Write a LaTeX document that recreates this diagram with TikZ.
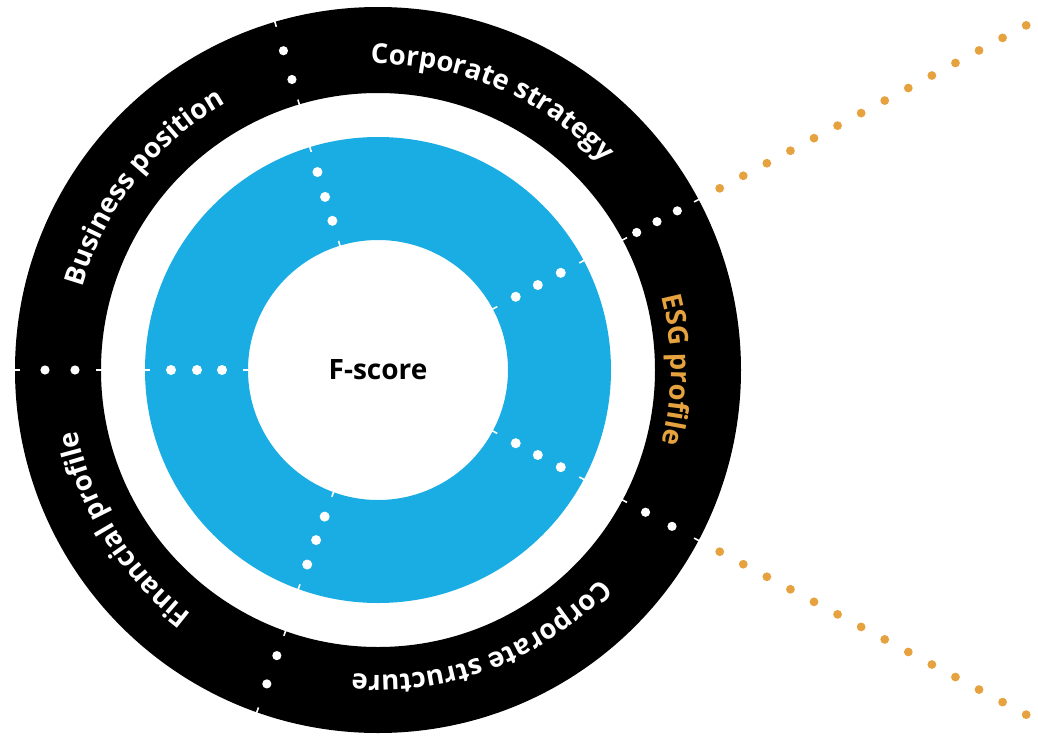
\documentclass[tikz,border=0pt]{standalone}
\usepackage{fontspec}
\setmainfont{Open Sans}
\usetikzlibrary{decorations.text}
\definecolor{ringblue}{RGB}{25,173,228}
\definecolor{esgorange}{RGB}{230,162,62}
\tikzset{
  notch/.style={white, line width=1.6pt},
  ringdot/.style={white},
  golddot/.style={fill=esgorange},
}
\begin{document}
\begin{tikzpicture}[x=1pt,y=1pt]
\useasboundingbox (-378,-367) rectangle (660,370);
% rings
\fill[black, even odd rule] (0,0) circle[radius=363] (0,0) circle[radius=277];
\fill[ringblue, even odd rule] (0,0) circle[radius=233] (0,0) circle[radius=130];
% notches at segment borders
\foreach \a in {106.5,180,28,-28,250.5} {
  \draw[notch] (\a:358) -- (\a:367);
  \draw[notch] (\a:273) -- (\a:282);
}
\foreach \a in {107,180,28,-28,250} {
  \draw[notch] (\a:228) -- (\a:237);
  \draw[notch] (\a:126) -- (\a:135);
}
% dots in the black ring
\foreach \a in {106.5,180,-28,250.5}
  \foreach \r in {303,333}
    \fill[ringdot] (\a:\r) circle[radius=4.6];
\foreach \r in {293,316,339}
  \fill[ringdot] (28:\r) circle[radius=4.6];
% dots in the blue ring
\foreach \a in {107,180,28,-28,250}
  \foreach \r in {156,181,207}
    \fill[ringdot] (\a:\r) circle[radius=5];
% orange dotted rays
\foreach \s in {28,-28}
  \foreach \i in {0,...,13}
    \fill[golddot] (\s:{387+26.7*\i}) circle[radius=4.4];
% ring labels
\path[decorate, decoration={text along path, text align=center, text color=white,
  text={|\bfseries\fontsize{27.5}{28}\selectfont|Corporate strategy}}]
  (127:306) arc[start angle=127, end angle=7, radius=306];
\path[decorate, decoration={text along path, text align=center, text color=white,
  text={|\bfseries\fontsize{27.5}{28}\selectfont|Business position}}]
  (202:307) arc[start angle=202, end angle=82, radius=307];
\path[decorate, decoration={text along path, text align=center, text color=esgorange,
  text={|\bfseries\fontsize{27.5}{28}\selectfont|ESG profile}}]
  (60:293) arc[start angle=60, end angle=-60, radius=293];
\path[decorate, decoration={text along path, text align=center, text color=white,
  text={|\bfseries\fontsize{27.5}{28}\selectfont|Corporate structure}}]
  (-9:305) arc[start angle=-9, end angle=-129, radius=305];
\path[decorate, decoration={text along path, text align=center, text color=white,
  text={|\bfseries\fontsize{27.5}{28}\selectfont|Financial profile}}]
  (272:307) arc[start angle=272, end angle=152, radius=307];
% centre
\node[font=\bfseries\fontsize{28}{28}\selectfont, text=black] (fscore) at (0,0) {F-score};
\end{tikzpicture}
\end{document}
